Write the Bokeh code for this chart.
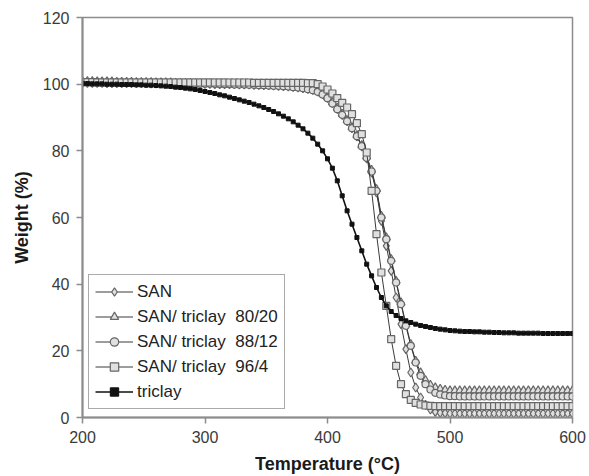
from bokeh.plotting import figure
from bokeh.models import Legend, LegendItem, FixedTicker, Range1d
from bokeh.embed import file_html
from bokeh.resources import INLINE

# Temperature (°C)
temperature = [
    200, 204, 208, 212, 216, 220, 224, 228, 232, 236,
    240, 244, 248, 252, 256, 260, 264, 268, 272, 276,
    280, 284, 288, 292, 296, 300, 304, 308, 312, 316,
    320, 324, 328, 332, 336, 340, 344, 348, 352, 356,
    360, 364, 368, 372, 376, 380, 384, 388, 392, 396,
    400, 404, 408, 412, 416, 420, 424, 428, 432, 436,
    440, 444, 448, 452, 456, 460, 464, 468, 472, 476,
    480, 484, 488, 492, 496, 500, 504, 508, 512, 516,
    520, 524, 528, 532, 536, 540, 544, 548, 552, 556,
    560, 564, 568, 572, 576, 580, 584, 588, 592, 596,
    600,
]

w_san = [
    100.4, 100.4, 100.4, 100.4, 100.4, 100.3, 100.3, 100.3, 100.3, 100.3,
    100.3, 100.3, 100.3, 100.3, 100.2, 100.2, 100.2, 100.2, 100.2, 100.2,
    100.2, 100.2, 100.1, 100.1, 100.1, 100.1, 100.1, 100.0, 100.0, 100.0,
    100.0, 100.0, 99.9, 99.9, 99.9, 99.8, 99.8, 99.7, 99.7, 99.6,
    99.5, 99.4, 99.3, 99.2, 99.0, 98.8, 98.6, 98.3, 97.8, 97.0,
    95.9, 94.3, 92.6, 90.8, 88.9, 86.8, 84.3, 81.3, 77.7, 73.5,
    67.5, 59.0, 51.5, 44.0, 36.0, 28.0, 20.5, 13.5, 9.0, 6.0,
    3.8, 2.4, 1.7, 1.4, 1.3, 1.2, 1.2, 1.2, 1.2, 1.2,
    1.2, 1.2, 1.2, 1.2, 1.2, 1.2, 1.2, 1.2, 1.2, 1.2,
    1.2, 1.2, 1.2, 1.2, 1.2, 1.2, 1.2, 1.2, 1.2, 1.2,
    1.2,
]

w_80_20 = [
    100.9, 100.9, 100.9, 100.8, 100.8, 100.8, 100.8, 100.7, 100.7, 100.7,
    100.7, 100.6, 100.6, 100.6, 100.6, 100.5, 100.5, 100.5, 100.5, 100.4,
    100.4, 100.4, 100.4, 100.3, 100.3, 100.3, 100.3, 100.2, 100.2, 100.2,
    100.1, 100.1, 100.0, 100.0, 99.9, 99.9, 99.8, 99.8, 99.7, 99.6,
    99.6, 99.5, 99.4, 99.3, 99.1, 98.9, 98.7, 98.4, 97.9, 97.2,
    96.1, 94.6, 92.9, 91.1, 89.2, 87.1, 84.7, 81.7, 78.3, 74.3,
    68.5, 60.5, 54.0, 47.5, 41.0, 34.5, 28.0, 22.0, 17.0, 13.5,
    11.2, 9.8, 9.0, 8.6, 8.3, 8.1, 8.1, 8.1, 8.1, 8.1,
    8.1, 8.1, 8.1, 8.1, 8.1, 8.1, 8.1, 8.1, 8.1, 8.1,
    8.1, 8.1, 8.1, 8.1, 8.1, 8.1, 8.1, 8.1, 8.1, 8.1,
    8.1,
]

w_88_12 = [
    100.6, 100.6, 100.6, 100.6, 100.5, 100.5, 100.5, 100.5, 100.5, 100.4,
    100.4, 100.4, 100.4, 100.4, 100.3, 100.3, 100.3, 100.3, 100.3, 100.2,
    100.2, 100.2, 100.2, 100.2, 100.1, 100.1, 100.1, 100.1, 100.0, 100.0,
    100.0, 99.9, 99.9, 99.9, 99.8, 99.8, 99.7, 99.7, 99.6, 99.5,
    99.5, 99.4, 99.3, 99.1, 99.0, 98.8, 98.5, 98.2, 97.7, 96.9,
    95.8, 94.2, 92.5, 90.8, 88.9, 86.8, 84.4, 81.4, 77.9, 73.8,
    68.0, 60.0, 53.5, 47.0, 40.5, 34.0, 27.5, 21.5, 16.5, 12.5,
    10.0, 8.4, 7.4, 6.9, 6.6, 6.4, 6.4, 6.3, 6.3, 6.3,
    6.3, 6.3, 6.3, 6.3, 6.3, 6.3, 6.3, 6.3, 6.3, 6.3,
    6.3, 6.3, 6.3, 6.3, 6.3, 6.3, 6.3, 6.3, 6.3, 6.3,
    6.3,
]

w_96_4 = [
    100.6, 100.6, 100.6, 100.5, 100.5, 100.5, 100.5, 100.5, 100.5, 100.5,
    100.5, 100.5, 100.5, 100.5, 100.5, 100.5, 100.5, 100.5, 100.5, 100.5,
    100.5, 100.5, 100.5, 100.5, 100.5, 100.5, 100.5, 100.5, 100.5, 100.5,
    100.5, 100.5, 100.5, 100.5, 100.5, 100.4, 100.4, 100.4, 100.4, 100.4,
    100.4, 100.4, 100.4, 100.4, 100.4, 100.4, 100.3, 100.3, 100.0, 99.3,
    98.4, 97.2, 95.8, 94.4, 93.0, 91.0, 88.3, 85.0, 79.5, 68.0,
    55.0, 43.5, 33.5, 23.5, 15.5, 10.0, 7.0, 5.3, 4.4, 3.9,
    3.6, 3.5, 3.4, 3.4, 3.4, 3.4, 3.4, 3.4, 3.4, 3.4,
    3.4, 3.4, 3.4, 3.4, 3.4, 3.4, 3.4, 3.4, 3.4, 3.4,
    3.4, 3.4, 3.4, 3.4, 3.4, 3.4, 3.4, 3.4, 3.4, 3.4,
    3.4,
]

w_triclay = [
    100.2, 100.2, 100.1, 100.1, 100.1, 100.0, 100.0, 100.0, 99.9, 99.9,
    99.9, 99.8, 99.8, 99.7, 99.7, 99.6, 99.5, 99.4, 99.3, 99.1,
    99.0, 98.8, 98.6, 98.4, 98.1, 97.8, 97.5, 97.2, 96.8, 96.5,
    96.1, 95.7, 95.3, 94.9, 94.5, 94.0, 93.5, 93.0, 92.4, 91.8,
    91.1, 90.4, 89.6, 88.7, 87.7, 86.6, 85.3, 83.8, 82.0, 80.0,
    77.6, 74.8, 71.0, 66.5, 62.0, 58.0, 54.0, 50.0, 46.0, 42.5,
    39.0, 36.0, 33.5, 31.8, 30.6, 29.7, 29.0, 28.5, 28.0, 27.6,
    27.3, 27.0, 26.7, 26.5, 26.3, 26.1, 26.0, 25.9, 25.8, 25.8,
    25.7, 25.7, 25.6, 25.6, 25.5, 25.5, 25.4, 25.4, 25.4, 25.3,
    25.3, 25.3, 25.3, 25.3, 25.2, 25.2, 25.2, 25.2, 25.2, 25.2,
    25.2,
]

labels = ["SAN", "SAN/ triclay\u00a0 80/20", "SAN/ triclay\u00a0 88/12",
          "SAN/ triclay\u00a0 96/4", "triclay"]
x_ticks = [200, 300, 400, 500, 600]
y_ticks = [0, 20, 40, 60, 80, 100, 120]

FONT = "Liberation Sans"

p = figure(width=589, height=476, output_backend="svg", toolbar_location=None,
           x_range=Range1d(200, 600), y_range=Range1d(0, 120),
           min_border_left=82, min_border_right=17, min_border_top=17,
           min_border_bottom=59)
p.background_fill_color = "white"
p.border_fill_color = "white"
p.outline_line_color = "#8c8c8c"
p.outline_line_width = 1.5
p.grid.visible = False

p.xaxis.ticker = FixedTicker(ticks=x_ticks)
p.yaxis.ticker = FixedTicker(ticks=y_ticks)
for ax in (p.xaxis[0], p.yaxis[0]):
    ax.axis_line_color = "#8c8c8c"
    ax.axis_line_width = 2
    ax.major_tick_line_color = "#8c8c8c"
    ax.major_tick_line_width = 1.5
    ax.major_tick_out = 6
    ax.major_tick_in = 0
    ax.minor_tick_line_color = None
    ax.major_label_text_font = FONT
    ax.major_label_text_font_size = "16px"
    ax.major_label_text_color = "#3a3a3a"
    ax.axis_label_text_font = FONT
    ax.axis_label_text_font_style = "bold"
    ax.axis_label_text_font_size = "18px"
    ax.axis_label_text_color = "#1a1a1a"
p.xaxis.axis_label = "Temperature (°C)"
p.yaxis.axis_label = "Weight (%)"
p.xaxis.major_label_standoff = 7
p.xaxis.axis_label_standoff = 8
p.yaxis.major_label_standoff = 7
p.yaxis.axis_label_standoff = 8

series = [w_san, w_80_20, w_88_12, w_96_4]
markers = ["diamond", "triangle", "circle", "square"]
msizes = [9, 8, 7, 7]
items = []
for lab, ys, mk, ms in zip(labels[:4], series, markers, msizes):
    lr = p.line(temperature, ys, line_color="#3a3a3a", line_width=1)
    sr = p.scatter(temperature, ys, marker=mk, size=ms, line_color="#666666",
                   line_width=1.2, fill_color="#e0e0e0")
    items.append(LegendItem(label=lab, renderers=[lr, sr]))

lr = p.line(temperature, w_triclay, line_color="#111111", line_width=1.6)
sr = p.scatter(temperature, w_triclay, marker="square", size=4,
               line_color="#111111", fill_color="#111111")
items.append(LegendItem(label=labels[4], renderers=[lr, sr]))

legend = Legend(items=items, location=(6, 8), margin=0)
legend.border_line_color = "#555555"
legend.border_line_width = 1
legend.background_fill_color = "white"
legend.background_fill_alpha = 1.0
legend.glyph_width = 38
legend.glyph_height = 21
legend.label_height = 21
legend.spacing = 4
legend.padding = 6
legend.label_standoff = 4
legend.label_text_font = FONT
legend.label_text_font_size = "17px"
legend.label_text_color = "#222222"
p.add_layout(legend)

open("out.html", "w").write(file_html(p, INLINE))
